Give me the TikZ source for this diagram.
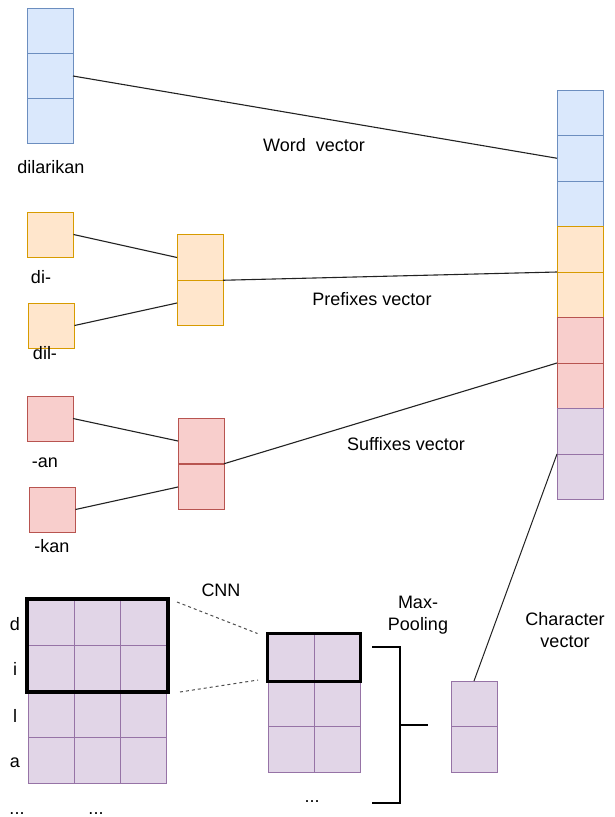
\documentclass[tikz,border=0pt]{standalone}
\usepackage{fontspec}
\setmainfont{Liberation Sans}
\usetikzlibrary{calc}
\definecolor{bfill}{HTML}{DAE8FC}
\definecolor{bdraw}{HTML}{6C8EBF}
\definecolor{ofill}{HTML}{FFE6CC}
\definecolor{odraw}{HTML}{D79B00}
\definecolor{rfill}{HTML}{F8CECC}
\definecolor{rdraw}{HTML}{B85450}
\definecolor{pfill}{HTML}{E1D5E7}
\definecolor{pdraw}{HTML}{9673A6}
\definecolor{linec}{HTML}{222222}
\begin{document}
\begin{tikzpicture}[x=1pt,y=-1pt,
  cell/.style={draw, minimum width=46pt, minimum height=45.5pt, inner sep=0pt, outer sep=0pt, line width=1pt},
  bcell/.style={cell, fill=bfill, draw=bdraw},
  ocell/.style={cell, fill=ofill, draw=odraw},
  rcell/.style={cell, fill=rfill, draw=rdraw},
  pcell/.style={cell, fill=pfill, draw=pdraw},
  kbox/.style={draw=black, line width=3.5pt, inner sep=0pt, outer sep=0pt},
  conn/.style={draw=linec, line width=1.1pt},
  dconn/.style={draw=linec!80, line width=1pt, dash pattern=on 3pt off 3pt},
  lbl/.style={font=\fontsize{18}{21.5}\selectfont, inner sep=0pt, anchor=base},
  lbl2/.style={font=\fontsize{18}{21.5}\selectfont, inner sep=0pt, align=center, anchor=center}
]
\useasboundingbox[fill=white] (0,0) rectangle (614,817);

% word vector column
\node[bcell, minimum height=45.33pt] (w1) at (50,30.67) {};
\node[bcell, minimum height=45.33pt] (w2) at (50,76) {};
\node[bcell, minimum height=45.33pt] (w3) at (50,121.33) {};
\node[lbl] (tdil) at (51,173) {dilarikan};

% prefixes
\node[ocell, minimum height=45pt] (pa) at (50.5,234.5) {};
\node[lbl] (tdi) at (41,283) {di-};
\node[ocell, minimum height=45pt] (pb) at (51.5,325.5) {};
\node[lbl] (tdilp) at (45,359) {dil-};
\node[ocell] (pm1) at (200,257.5) {};
\node[ocell] (pm2) at (200,303) {};

% suffixes
\node[rcell, minimum height=45pt] (sa) at (50,418.5) {};
\node[lbl] (tan) at (45,467) {-an};
\node[rcell, minimum height=45pt] (sb) at (52.5,509.5) {};
\node[lbl] (tkan) at (52,552) {-kan};
\node[rcell] (sm1) at (201,441) {};
\node[rcell] (sm2) at (201,487) {};

% combined column
\node[bcell] (r1) at (580,112.75) {};
\node[bcell] (r2) at (580,158.25) {};
\node[bcell] (r3) at (580,203.75) {};
\node[ocell] (r4) at (580,249.25) {};
\node[ocell] (r5) at (580,294.75) {};
\node[rcell] (r6) at (580,340.25) {};
\node[rcell] (r7) at (580,385.75) {};
\node[pcell] (r8) at (580,431.25) {};
\node[pcell] (r9) at (580,476.75) {};

% connectors
\draw[conn] (w2.east) -- (r2.west);
\draw[conn] (pa.east) -- (pm1.west);
\draw[conn] (pb.east) -- (pm2.west);
\draw[conn] (pm1.south east) -- (r4.south west);
\draw[conn] (sa.east) -- (sm1.west);
\draw[conn] (sb.east) -- (sm2.west);
\draw[conn] (sm1.south east) -- (r6.south west);

\node[lbl] (tword) at (314,151) {Word\ \ vector};
\node[lbl] (tpre) at (372,305) {Prefixes vector};
\node[lbl] (tsuf) at (406,450) {Suffixes vector};

% character grid
\foreach \r in {1,...,4} \foreach \c in {1,2,3}
  \node[pcell, minimum height=45.75pt] (g\r\c) at ({5+46*\c},{600+45.75*(\r-0.5)}) {};
\node[kbox, minimum width=141pt, minimum height=93pt] (bigk) at (97.5,645.5) {};
\node[lbl] (td) at (15,630) {d};
\node[lbl] (ti) at (15,675) {i};
\node[lbl] (tl) at (15,722) {l};
\node[lbl] (ta) at (15,767) {a};
\node[lbl] (tdots1) at (17,814) {...};
\node[lbl] (tdots2) at (96,814) {...};
\node[lbl] (tcnn) at (221,596) {CNN};

% feature maps
\foreach \r in {1,2,3} \foreach \c in {1,2}
  \node[pcell, minimum height=46pt] (m\r\c) at ({245+46*\c},{634+46*(\r-0.5)}) {};
\node[kbox, minimum width=93pt, minimum height=48pt] (midk) at (314,657.5) {};
\node[lbl] (tdots3) at (312,802) {...};

\draw[dconn] ($(bigk.north east)+(9,3)$) -- ($(midk.north west)+(-10,0)$);
\draw[dconn] ($(bigk.south east)+(12,0)$) -- ($(midk.south west)+(-9.5,-1.5)$);

% max pooling bracket
\coordinate (bt) at (372,647);
\coordinate (bb) at (372,803);
\coordinate (bm) at (400,725);
\coordinate (tk) at (428,725);
\draw[draw=black, line width=2pt] (bt) -| (bm) |- (bb);
\draw[draw=black, line width=2pt] (bm) -- (tk);
\node[lbl2] (tmax) at (418,615) {Max-\\Pooling};

% character vector
\node[pcell] (cv1) at (474,703.75) {};
\node[pcell] (cv2) at (474,749.25) {};
\node[lbl2] (tchar) at (565,630) {Character\\vector};
\draw[conn, line width=1pt] (r8.south west) -- (cv1.north);
\end{tikzpicture}
\end{document}
